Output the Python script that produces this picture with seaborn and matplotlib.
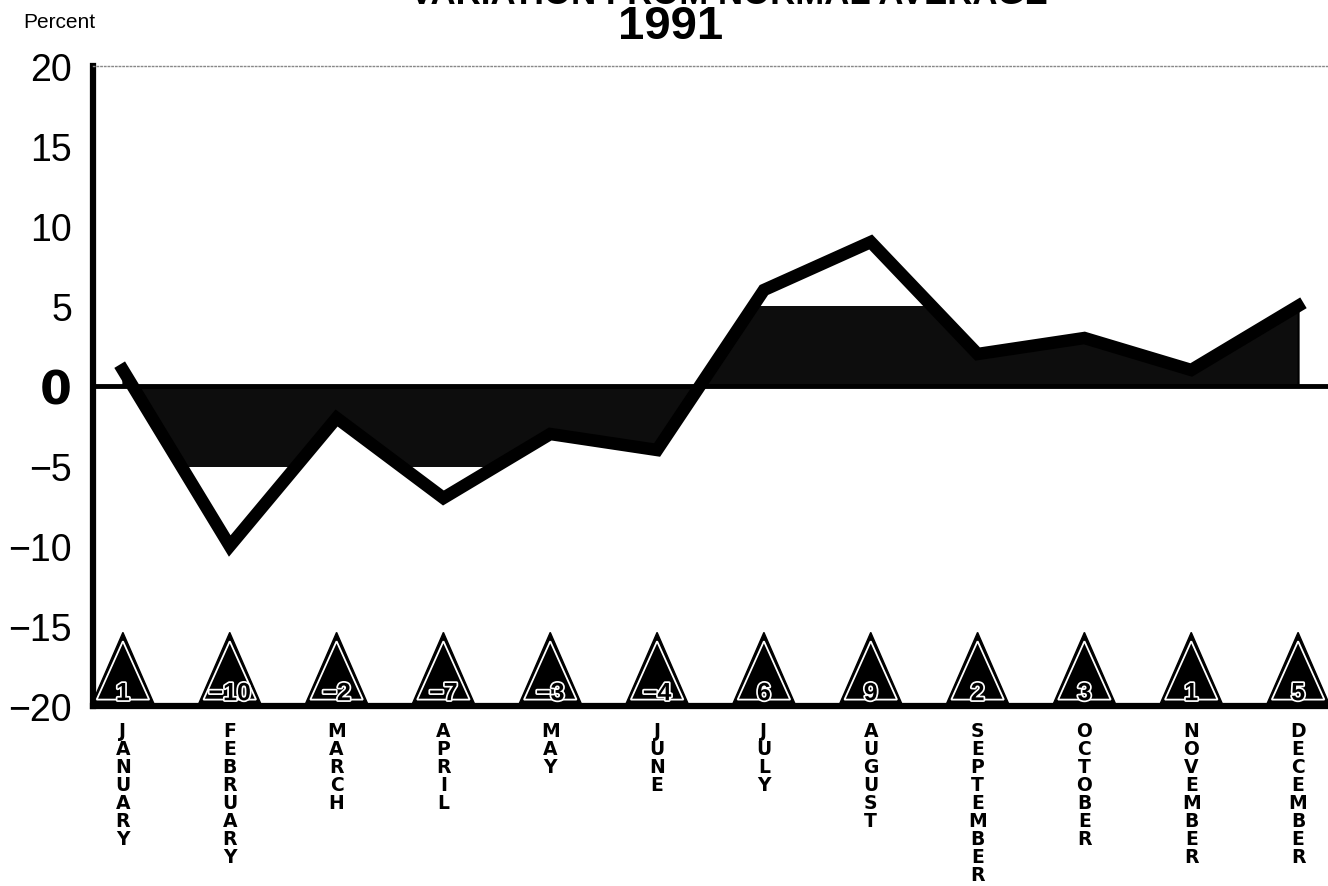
import numpy as np
import pandas as pd
import seaborn as sns
import matplotlib.pyplot as plt
import matplotlib.patches as mpatches
import matplotlib.patheffects as pe

months = ["JANUARY", "FEBRUARY", "MARCH", "APRIL", "MAY", "JUNE",
          "JULY", "AUGUST", "SEPTEMBER", "OCTOBER", "NOVEMBER", "DECEMBER"]
variation = [1, -10, -2, -7, -3, -4, 6, 9, 2, 3, 1, 5]
badge_labels = ["1", "\u221210", "\u22122", "\u22127", "\u22123", "\u22124",
                "6", "9", "2", "3", "1", "5"]
shade_cap = 5
yticks = [-20, -15, -10, -5, 0, 5, 10, 15, 20]
ytick_labels = ["\u221220", "\u221215", "\u221210", "\u22125", "0", "5", "10", "15", "20"]

sns.set_style("white")
plt.rcParams["font.family"] = ["Liberation Sans", "DejaVu Sans"]
for key in ["text.color", "axes.labelcolor", "xtick.color", "ytick.color"]:
    plt.rcParams[key] = "black"

fig = plt.figure(figsize=(13.28, 8.87), dpi=100)
ax = fig.add_axes([93 / 1328, 1 - 707 / 887, 1 - 93 / 1328, 640 / 887])

df = pd.DataFrame({"idx": np.arange(len(months)), "variation": variation})
x = df["idx"].to_numpy()

# shaded area, only the part within +/- shade_cap
shade = ax.fill_between(x, 0, df["variation"], color="#0d0d0d", lw=1.5,
                        edgecolor="black", zorder=2)
clip = mpatches.Rectangle((-1, -shade_cap), len(months) + 2, 2 * shade_cap,
                          transform=ax.transData)
shade.set_clip_path(clip)

ax.axhline(0, color="black", lw=3.5, zorder=3)

sns.lineplot(data=df, x="idx", y="variation", color="black", lw=9,
             solid_joinstyle="miter", solid_capstyle="projecting",
             ax=ax, zorder=4)

# triangle badges along the bottom
for i, lab in enumerate(badge_labels):
    tri = np.array([[i - 0.3, -20], [i + 0.3, -20], [i, -15.4]])
    ax.add_patch(mpatches.Polygon(tri, closed=True, facecolor="black",
                                  edgecolor="black", lw=1, zorder=5, clip_on=False))
    cen = tri.mean(axis=0)
    inner = cen + (tri - cen) * 0.82
    inner[:2, 1] = -19.6
    ax.add_patch(mpatches.Polygon(inner, closed=True, fill=False,
                                  edgecolor="white", lw=1.3, zorder=6, clip_on=False))
    ax.text(i, -19.2, lab, ha="center", va="center", fontsize=18,
            color="black", fontweight="bold", zorder=7,
            path_effects=[pe.withStroke(linewidth=2.5, foreground="white")])

ax.set_xlim(-0.28, 11.28)
ax.set_ylim(-20, 20)
ax.set_xlabel("")
ax.set_ylabel("")

ax.set_xticks(x)
ax.set_xticklabels(["\n".join(m) for m in months], fontsize=13.5,
                   family="DejaVu Sans", fontweight="bold", linespacing=0.93,
                   va="top")
ax.set_yticks(yticks)
ax.set_yticklabels(ytick_labels, fontsize=27)
for t in ax.get_yticklabels():
    if t.get_text() == "0":
        t.set_fontweight("bold")
        t.set_fontsize(33)
        t.set_family("DejaVu Sans")
ax.tick_params(axis="x", length=0, pad=11)
ax.tick_params(axis="y", length=0, pad=15)

for side in ["left", "bottom"]:
    ax.spines[side].set_linewidth(4.5)
    ax.spines[side].set_color("black")
ax.spines["right"].set_visible(False)
ax.spines["top"].set_linestyle(":")
ax.spines["top"].set_linewidth(1)
ax.spines["top"].set_color("#888888")

fig.text(729 / 1328, 1 - 4 / 887, "VARIATION FROM NORMAL AVERAGE",
         ha="center", va="baseline", fontsize=25, fontweight="bold")
fig.text(671 / 1328, 1 - 27 / 887, "1991", ha="center", va="center",
         fontsize=34, fontweight="bold")
fig.text(23 / 1328, 1 - 23 / 887, "Percent", ha="left", va="center", fontsize=15)

fig.savefig("out.png", dpi=100, facecolor="white")
